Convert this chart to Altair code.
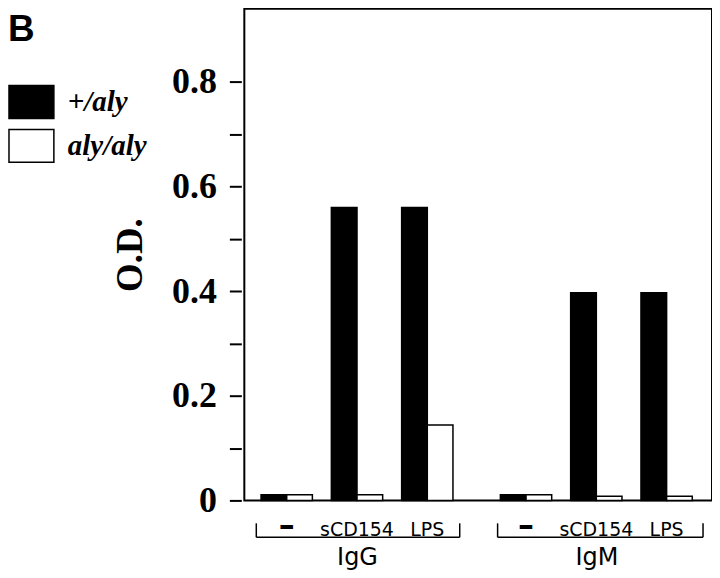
import altair as alt
import pandas as pd

groups = ["IgG", "IgM"]
conditions = ["–", "sCD154", "LPS"]
genotypes = ["+/aly", "aly/aly"]
igg_het = [0.011, 0.56, 0.56]
igg_aly = [0.011, 0.011, 0.144]
igm_het = [0.011, 0.397, 0.397]
igm_aly = [0.011, 0.008, 0.008]
y_ticks = [0, 0.1, 0.2, 0.3, 0.4, 0.5, 0.6, 0.7, 0.8]

rows = []
for g, het, aly in [("IgG", igg_het, igg_aly), ("IgM", igm_het, igm_aly)]:
    for c, h, a in zip(conditions, het, aly):
        rows.append({"group": g, "condition": c, "genotype": genotypes[0], "od": h})
        rows.append({"group": g, "condition": c, "genotype": genotypes[1], "od": a})
df = pd.DataFrame(rows)

W, H = 469, 493
SERIF = "Liberation Serif"
SANS = "DejaVu Sans"

y_enc = alt.Y(
    "od:Q",
    scale=alt.Scale(domain=[0, 0.94], nice=False, zero=True),
    axis=alt.Axis(
        values=y_ticks,
        labelExpr="datum.value == 0 ? '0' : (round(datum.value*10) % 2 == 0 ? format(datum.value, '.1f') : '')",
        title="O.D.",
        titleFont=SERIF, titleFontSize=37, titleFontWeight="bold", titlePadding=22,
        labelFont=SERIF, labelFontSize=36, labelFontWeight="bold", labelPadding=13,
        tickSize=12, tickWidth=2, tickColor="black", offset=3,
        domain=False, grid=False, labelColor="black", titleColor="black",
    ),
)

fill_enc = alt.Fill(
    "genotype:N",
    scale=alt.Scale(domain=genotypes, range=["black", "white"]),
    legend=alt.Legend(
        title="B", orient="none", legendX=-237, legendY=3, padding=0,
        titleFont="Liberation Sans", titleFontSize=37, titleFontWeight="bold",
        titleColor="black", titlePadding=36, titleAnchor="start",
        symbolType="M-1.364,-1L1.364,-1L1.364,1L-1.364,1Z", symbolSize=1089,
        symbolOffset=6,
        symbolStrokeColor="black", symbolStrokeWidth=1.5,
        labelFont=SERIF, labelFontSize=29, labelFontStyle="italic",
        labelFontWeight="bold", labelColor="black", labelOffset=19,
        labelExpr="indexof(datum.label, '+') == 0 ? datum.label : '\u2002' + datum.label",
        rowPadding=5, labelLimit=300,
    ),
)

def group_layer(g, rng):
    return alt.Chart(df[df["group"] == g]).mark_bar(
        stroke="black", strokeWidth=1.5
    ).encode(
        x=alt.X(
            "condition:N", sort=conditions,
            scale=alt.Scale(domain=conditions, range=rng, paddingInner=0.27, paddingOuter=0.238),
            axis=alt.Axis(
                title=g, orient="bottom", ticks=False, tickSize=0, domain=False,
                labelAngle=0, labelFont=SANS, labelBaseline="alphabetic", labelPadding=35,
                labelFontSize={"condition": {"test": "datum.value == '–'", "value": 32}, "value": 19},
                labelFontWeight={"condition": {"test": "datum.value == '–'", "value": "bold"}, "value": "normal"},
                labelColor="black", titleFont=SANS, titleFontSize=24,
                titleFontWeight="normal", titleColor="black", titlePadding=4,
            ),
        ),
        xOffset=alt.XOffset("genotype:N", sort=genotypes,
                            scale=alt.Scale(domain=genotypes, paddingInner=0, paddingOuter=0)),
        y=y_enc,
        fill=fill_enc,
    )

igg = group_layer("IgG", [0, 226])
igm = group_layer("IgM", [240, 466])

bracket_data = alt.Data(values=[{}])

def bracket(x0, x1):
    top, bot = H + 23, H + 37
    horiz = alt.Chart(bracket_data).mark_rule(color="black", strokeWidth=1.5).encode(
        x=alt.value(x0), x2=alt.value(x1), y=alt.value(bot))
    left = alt.Chart(bracket_data).mark_rule(color="black", strokeWidth=1.5).encode(
        x=alt.value(x0), y=alt.value(top), y2=alt.value(bot))
    right = alt.Chart(bracket_data).mark_rule(color="black", strokeWidth=1.5).encode(
        x=alt.value(x1), y=alt.value(top), y2=alt.value(bot))
    return [horiz, left, right]

chart = alt.layer(
    igg, igm, *bracket(12, 216), *bracket(254, 460)
).resolve_scale(
    x="independent", xOffset="independent"
).resolve_axis(
    x="independent"
).properties(
    width=W, height=H, padding=0, background="white"
).configure_view(
    stroke="black", strokeWidth=2
)

chart.save("out.html", embed_options={"renderer": "svg", "actions": False})
